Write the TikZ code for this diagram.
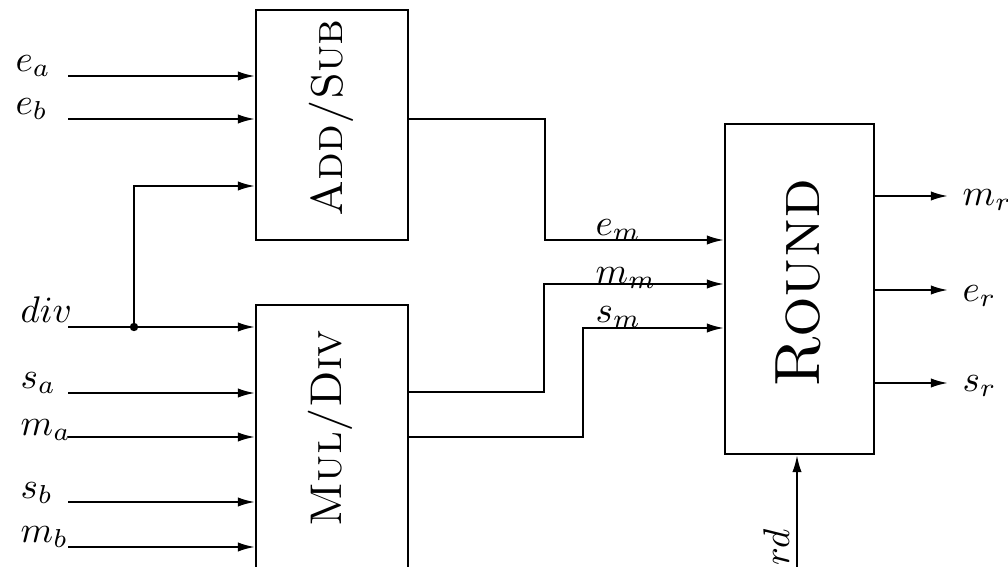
\documentclass[tikz,border=0pt]{standalone}
\usetikzlibrary{arrows.meta,fit}
\begin{document}
\begin{tikzpicture}[x=0.27pt,y=-0.27pt,
  box/.style={draw, line width=0.55pt, inner sep=0pt},
  wire/.style={line width=0.55pt},
  arr/.style={wire, -{Latex[length=4.6pt,width=2.5pt]}},
  lbl/.style={inner sep=0pt, anchor=base west},
  blocktitle/.style={rotate=90, inner sep=0pt}]
\useasboundingbox (0,0) rectangle (1008,567);
\clip (0,0) rectangle (1008,567);

% blocks
\node[box, fit={(256,10) (408,240)}] (as) {};
\node[box, fit={(256,305) (408,620)}] (md) {};
\node[box, fit={(725,124) (874,454)}] (rn) {};
\node[blocktitle] (ast) at (331,118) {\large\textsc{Add/Sub}};
\node[blocktitle] (mdt) at (330,428) {\large\textsc{Mul/Div}};
\node[blocktitle] (rnt) at (798,283) {\LARGE\textsc{Round}};

% input coordinates
\coordinate (iea) at (68,76);
\coordinate (ieb) at (68,119);
\coordinate (idiv) at (68,327);
\coordinate (j) at (134,327);
\coordinate (jup) at (134,186);
\coordinate (isa) at (68,393);
\coordinate (ima) at (68,437);
\coordinate (isb) at (68,502);
\coordinate (imb) at (68,547);

% inputs
\draw[arr] (iea) -- (iea -| as.west);
\draw[arr] (ieb) -- (ieb -| as.west);
\draw[arr] (idiv) -- (idiv -| md.west);
\draw[arr] (j) -- (jup) -- (jup -| as.west);
\fill (j) circle (4.2);
\draw[arr] (isa) -- (isa -| md.west);
\draw[arr] (ima) -- (ima -| md.west);
\draw[arr] (isb) -- (isb -| md.west);
\draw[arr] (imb) -- (imb -| md.west);

% intermediate
\coordinate (o1) at (408,119);
\coordinate (c1) at (545,240);
\coordinate (o2) at (408,392);
\coordinate (c2) at (544,284);
\coordinate (o3) at (408,437);
\coordinate (c3) at (583,328);
\draw[arr] (o1) -| (c1) -- (c1 -| rn.west);
\draw[arr] (o2) -| (c2) -- (c2 -| rn.west);
\draw[arr] (o3) -| (c3) -- (c3 -| rn.west);

% outputs
\coordinate (omr) at (948,196);
\coordinate (oer) at (948,290);
\coordinate (osr) at (948,383);
\draw[arr] (omr -| rn.east) -- (omr);
\draw[arr] (oer -| rn.east) -- (oer);
\draw[arr] (osr -| rn.east) -- (osr);
\coordinate (ird) at (797,600);
\draw[arr] (ird) -- (ird |- rn.south);

% labels
\node[lbl] (lea) at (15,71) {$e_a$};
\node[lbl] (leb) at (15,114) {$e_b$};
\node[lbl] (ldiv) at (20,322) {$div$};
\node[lbl] (lsa) at (20,388) {$s_a$};
\node[lbl] (lma) at (20,435) {$m_a$};
\node[lbl] (lsb) at (20,498) {$s_b$};
\node[lbl] (lmb) at (20,542) {$m_b$};
\node[lbl] (lem) at (595,235) {$e_m$};
\node[lbl] (lmm) at (595,283) {$m_m$};
\node[lbl] (lsm) at (595,322) {$s_m$};
\node[lbl] (lmr) at (962,205) {$m_r$};
\node[lbl] (ler) at (962,301) {$e_r$};
\node[lbl] (lsr) at (962,391) {$s_r$};
\node[rotate=90, anchor=base east, inner sep=0pt] (lrd) at (789,528) {$rd$};
\end{tikzpicture}
\end{document}
